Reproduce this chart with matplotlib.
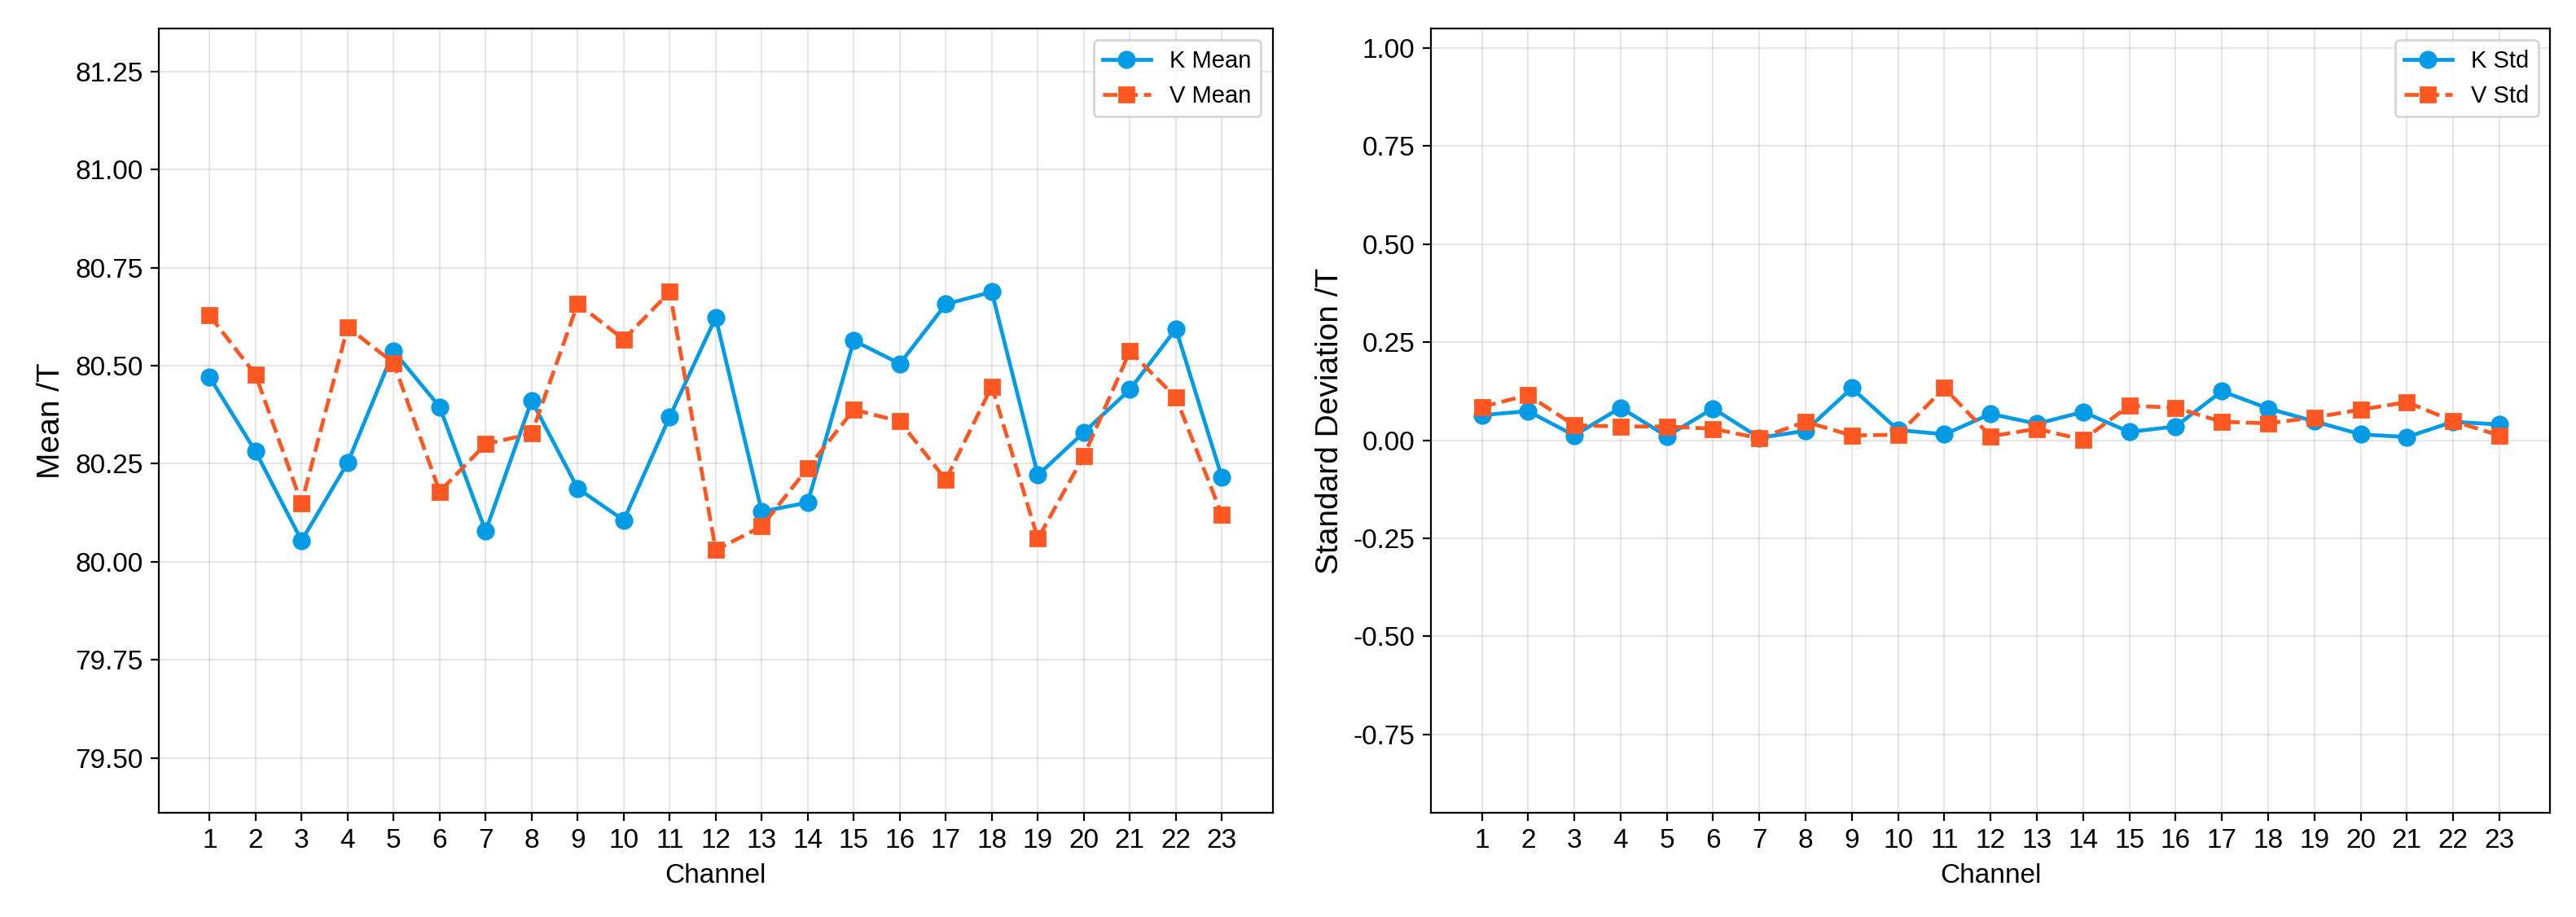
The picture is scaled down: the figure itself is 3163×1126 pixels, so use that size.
import matplotlib
matplotlib.use("Agg")
import matplotlib.pyplot as plt
import numpy as np

plt.rcParams['font.family'] = ['Liberation Sans', 'DejaVu Sans']
plt.rcParams['axes.unicode_minus'] = False

# channels 1..23
channels = np.arange(1, 24)

# mean values
k_mean = [80.471, 80.281, 80.054, 80.252, 80.537, 80.395, 80.078, 80.411, 80.187, 80.106,
          80.370, 80.623, 80.128, 80.151, 80.564, 80.505, 80.657, 80.688, 80.221, 80.330,
          80.439, 80.594, 80.215]
v_mean = [80.628, 80.477, 80.149, 80.598, 80.507, 80.179, 80.300, 80.327, 80.658, 80.567,
          80.688, 80.030, 80.090, 80.239, 80.388, 80.358, 80.209, 80.447, 80.059, 80.270,
          80.537, 80.419, 80.119]

# standard deviations
k_std = [0.064, 0.074, 0.012, 0.083, 0.010, 0.081, 0.006, 0.024, 0.133, 0.026,
         0.015, 0.067, 0.042, 0.072, 0.021, 0.035, 0.125, 0.081, 0.048, 0.015,
         0.008, 0.047, 0.040]
v_std = [0.085, 0.115, 0.038, 0.035, 0.035, 0.029, 0.005, 0.047, 0.012, 0.014,
         0.133, 0.010, 0.029, 0.001, 0.088, 0.083, 0.047, 0.043, 0.058, 0.078,
         0.097, 0.049, 0.012]

blue = '#039BE5'
orange = '#FF5722'

fig = plt.figure(figsize=(15.815, 5.63), dpi=200)
bottom, top = 0.1137, 0.969
ax1 = fig.add_axes([0.0617, bottom, 0.494 - 0.0617, top - bottom])
ax2 = fig.add_axes([0.5555, bottom, 0.990 - 0.5555, top - bottom])

# left panel: means
ax1.plot(channels, k_mean, color=blue, marker='o', linestyle='-', lw=1.7, ms=7, label='K Mean')
ax1.plot(channels, v_mean, color=orange, marker='s', linestyle='--', lw=1.7, ms=6.5, label='V Mean')
ax1.set_ylim(79.36, 81.36)
ax1.set_xticks(channels)
ax1.set_xlabel('Channel', fontsize=12)
ax1.set_ylabel('Mean /T', fontsize=14)
ax1.grid(True, alpha=0.3)
ax1.legend(loc='upper right', fontsize=10.5)

# right panel: std
ax2.plot(channels, k_std, color=blue, marker='o', linestyle='-', lw=1.7, ms=7, label='K Std')
ax2.plot(channels, v_std, color=orange, marker='s', linestyle='--', lw=1.7, ms=6.5, label='V Std')
ax2.set_ylim(-0.95, 1.05)
ax2.set_xticks(channels)
ax2.set_xlabel('Channel', fontsize=12)
ax2.set_ylabel('Standard Deviation /T', fontsize=14)
ax2.grid(True, alpha=0.3)
ax2.legend(loc='upper right', fontsize=10.5)

for ax in (ax1, ax2):
    ax.tick_params(labelsize=12)

fig.savefig('out.png', dpi=200)
